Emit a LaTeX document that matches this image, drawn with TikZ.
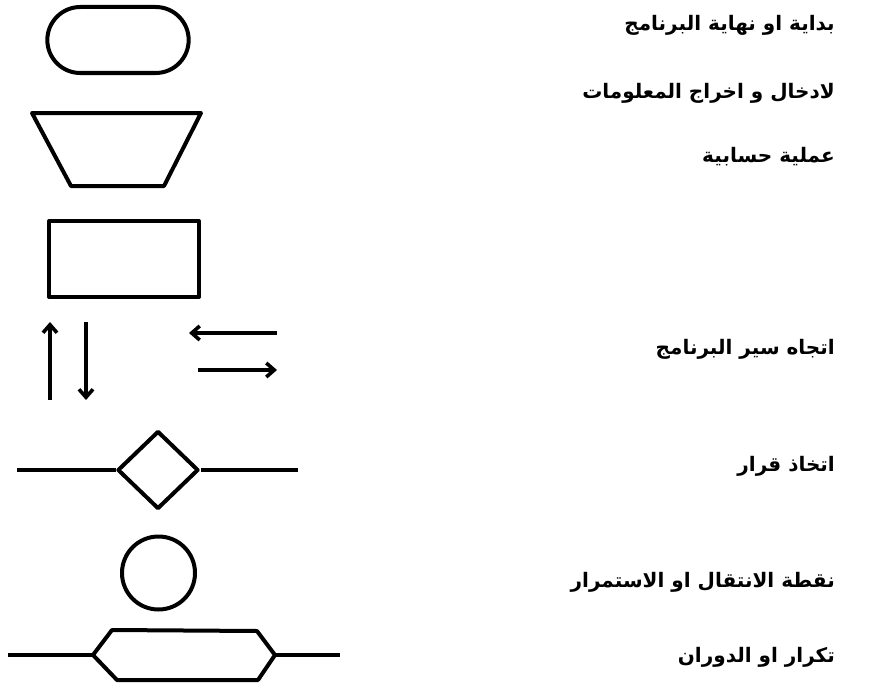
\documentclass[tikz,border=0pt]{standalone}
\usepackage{fontspec}
\newfontfamily\arabicfont[Script=Arabic]{DejaVu Sans}
\TeXXeTstate=1
\usetikzlibrary{arrows.meta,positioning,calc,shapes.geometric,shapes.misc}
\tikzstyle{symbol}=[draw=black,line width=4pt,line join=round]
\tikzstyle{flow}=[draw=black,line width=3.6pt,arrows={-{Straight Barb[length=8pt,width=14pt]}}]
\tikzstyle{label}=[anchor=east,inner sep=0pt,font=\arabicfont\bfseries\fontsize{20}{24}\selectfont]
\tikzstyle{terminal}=[symbol,rounded rectangle,minimum width=148pt,minimum height=66pt]
\tikzstyle{process}=[symbol,rectangle,minimum width=150pt,minimum height=76pt]
\tikzstyle{decision}=[symbol,diamond,minimum width=81pt,minimum height=78pt,inner sep=0pt]
\tikzstyle{connector}=[symbol,circle,minimum size=73pt,inner sep=0pt]

\begin{document}
\begin{tikzpicture}[x=1pt,y=-1pt]
    \useasboundingbox (0,0) rectangle (875,685);

    % symbols
    \node[terminal] (start) at (118,40) {};
    \draw[symbol] (32,113) -- (201,113) -- (164,186) -- (71,186) -- cycle;
    \node[process] (calc) at (124,259) {};

    \coordinate (upA) at (50,400);  \coordinate (upB) at (50,322);
    \coordinate (dnA) at (86,322);  \coordinate (dnB) at (86,400);
    \coordinate (ltA) at (277,333); \coordinate (ltB) at (189,333);
    \coordinate (rtA) at (198,370); \coordinate (rtB) at (277,370);
    \draw[flow] (upA) -- (upB);
    \draw[flow] (dnA) -- (dnB);
    \draw[flow] (ltA) -- (ltB);
    \draw[flow] (rtA) -- (rtB);

    \node[decision] (decide) at (158,470) {};
    \coordinate (decL) at (17,470);
    \coordinate (decR) at (298,470);
    \draw[symbol] (decL) -- (decide.west);
    \draw[symbol] (decide.east) -- (decR);

    \node[connector] (jump) at (158.5,573) {};

    \coordinate (loopW) at (93,655);
    \coordinate (loopE) at (275,655);
    \draw[symbol] (loopW) -- (112,630) -- (257,631) -- (loopE) -- (258,680) -- (117,680) -- cycle;
    \coordinate (loopL) at (8,655);
    \coordinate (loopR) at (340,655);
    \draw[symbol] (loopL) -- (loopW);
    \draw[symbol] (loopE) -- (loopR);

    % labels
    \node[label] (lstart)  at (835,25)  {\beginR بداية او نهاية البرنامج\endR};
    \node[label] (lio)     at (835,93)  {\beginR لادخال و اخراج المعلومات\endR};
    \node[label] (lcalc)   at (835,157) {\beginR عملية حسابية\endR};
    \node[label] (lflow)   at (835,349) {\beginR اتجاه سير البرنامج\endR};
    \node[label] (ldecide) at (835,466) {\beginR اتخاذ قرار\endR};
    \node[label] (ljump)   at (835,582) {\beginR نقطة الانتقال او الاستمرار\endR};
    \node[label] (lloop)   at (835,657) {\beginR تكرار او الدوران\endR};
\end{tikzpicture}
\end{document}
